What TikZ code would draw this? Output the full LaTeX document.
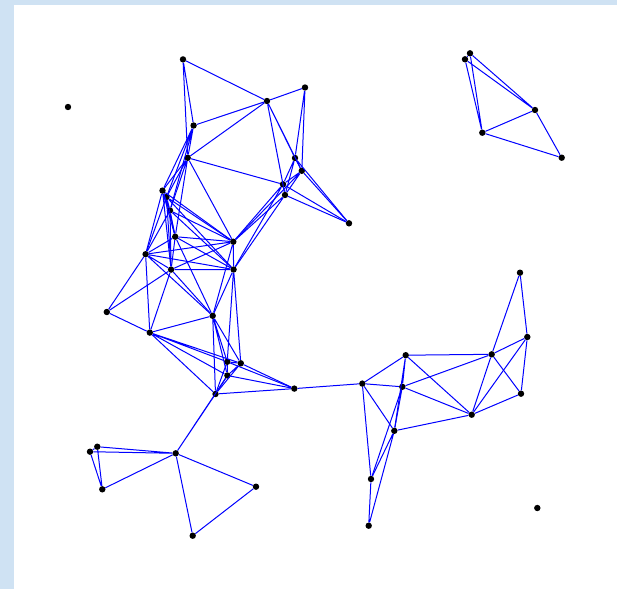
\documentclass[tikz,border=0pt]{standalone}
\usepackage{tikz}

\definecolor{paneblue}{RGB}{207,226,243}
\tikzset{
  vtx/.style={circle, fill=black, inner sep=0pt, minimum size=6.4pt},
  edge/.style={blue, line width=1pt}
}

\begin{document}
\begin{tikzpicture}[x=1pt, y=-1pt]

% ---------- frame ----------
\fill[paneblue] (0,0) rectangle (617,589);
\fill[white] (14,4.5) rectangle (617,589);

% ---------- main cluster ----------
\node[vtx] (m1) at (183,59.4) {};
\node[vtx] (m2) at (267,101) {};
\node[vtx] (m3) at (305,87.5) {};
\node[vtx] (m4) at (193.6,125.5) {};
\node[vtx] (m5) at (187.7,157.8) {};
\node[vtx] (m6) at (295,158) {};
\node[vtx] (m7) at (301.8,170.8) {};
\node[vtx] (m8) at (283,184.3) {};
\node[vtx] (m9) at (285,195) {};
\node[vtx] (m10) at (349,223.3) {};
\node[vtx] (m11) at (162.5,190.6) {};
\node[vtx] (m12) at (166.5,197) {};
\node[vtx] (m13) at (170,210.5) {};
\node[vtx] (m14) at (175.2,236.7) {};
\node[vtx] (m15) at (233.3,241.7) {};
\node[vtx] (m16) at (145.6,254.2) {};
\node[vtx] (m17) at (171.1,269.6) {};
\node[vtx] (m18) at (233.6,269.5) {};
\node[vtx] (m19) at (106.8,312) {};
\node[vtx] (m20) at (212.7,315.8) {};
\node[vtx] (m21) at (149.8,332.6) {};
\node[vtx] (m22) at (227.2,361.8) {};
\node[vtx] (m23) at (240.8,363.3) {};
\node[vtx] (m24) at (227.4,375.5) {};
\node[vtx] (m25) at (215.5,394) {};
\node[vtx] (m26) at (294.3,388.6) {};

\draw[edge] (m1) -- (m2) (m1) -- (m4) (m1) -- (m5);
\draw[edge] (m2) -- (m3) (m2) -- (m4) (m2) -- (m5) (m2) -- (m6) (m2) -- (m7) (m2) -- (m8) (m2) -- (m9);
\draw[edge] (m3) -- (m6) (m3) -- (m7);
\draw[edge] (m4) -- (m5) (m4) -- (m11) (m4) -- (m12) (m4) -- (m13);
\draw[edge] (m5) -- (m8) (m5) -- (m11) (m5) -- (m12) (m5) -- (m13) (m5) -- (m14) (m5) -- (m15);
\draw[edge] (m6) -- (m7) (m6) -- (m8) (m6) -- (m9) (m6) -- (m10);
\draw[edge] (m7) -- (m8) (m7) -- (m9) (m7) -- (m10) (m7) -- (m15);
\draw[edge] (m8) -- (m9) (m8) -- (m10) (m8) -- (m15) (m8) -- (m18);
\draw[edge] (m9) -- (m10) (m9) -- (m15) (m9) -- (m18);
\draw[edge] (m11) -- (m12) (m11) -- (m13) (m11) -- (m14) (m11) -- (m15) (m11) -- (m16) (m11) -- (m17);
\draw[edge] (m12) -- (m13) (m12) -- (m14) (m12) -- (m15) (m12) -- (m16) (m12) -- (m17) (m12) -- (m18);
\draw[edge] (m13) -- (m14) (m13) -- (m15) (m13) -- (m16) (m13) -- (m17) (m13) -- (m18);
\draw[edge] (m14) -- (m15) (m14) -- (m16) (m14) -- (m17) (m14) -- (m18) (m14) -- (m20);
\draw[edge] (m15) -- (m16) (m15) -- (m17) (m15) -- (m18) (m15) -- (m20);
\draw[edge] (m16) -- (m17) (m16) -- (m18) (m16) -- (m19) (m16) -- (m20) (m16) -- (m21);
\draw[edge] (m17) -- (m18) (m17) -- (m19) (m17) -- (m20) (m17) -- (m21);
\draw[edge] (m18) -- (m20) (m18) -- (m22) (m18) -- (m23);
\draw[edge] (m19) -- (m21);
\draw[edge] (m20) -- (m21) (m20) -- (m22) (m20) -- (m23) (m20) -- (m24) (m20) -- (m25);
\draw[edge] (m21) -- (m22) (m21) -- (m23) (m21) -- (m24) (m21) -- (m25);
\draw[edge] (m22) -- (m23) (m22) -- (m24) (m22) -- (m25) (m22) -- (m26);
\draw[edge] (m23) -- (m24) (m23) -- (m25) (m23) -- (m26);
\draw[edge] (m24) -- (m25) (m24) -- (m26);
\draw[edge] (m25) -- (m26);

% ---------- right cluster ----------
\node[vtx] (r1) at (520,272.7) {};
\node[vtx] (r2) at (527.3,337) {};
\node[vtx] (r3) at (491.7,354.3) {};
\node[vtx] (r4) at (405.7,355.2) {};
\node[vtx] (r5) at (362.3,383.6) {};
\node[vtx] (r6) at (402.3,386.8) {};
\node[vtx] (r7) at (521,393.7) {};
\node[vtx] (r8) at (471.7,414.7) {};
\node[vtx] (r9) at (394.3,430.8) {};
\node[vtx] (r10) at (371,479) {};
\node[vtx] (r11) at (368.7,525.7) {};

\draw[edge] (m26) -- (r5);
\draw[edge] (r1) -- (r2) (r1) -- (r3);
\draw[edge] (r2) -- (r3) (r2) -- (r7) (r2) -- (r8);
\draw[edge] (r3) -- (r4) (r3) -- (r6) (r3) -- (r7) (r3) -- (r8);
\draw[edge] (r4) -- (r5) (r4) -- (r6) (r4) -- (r8) (r4) -- (r9);
\draw[edge] (r5) -- (r6) (r5) -- (r9) (r5) -- (r10);
\draw[edge] (r6) -- (r8) (r6) -- (r9) (r6) -- (r10);
\draw[edge] (r7) -- (r8) (r8) -- (r9);
\draw[edge] (r9) -- (r10) (r9) -- (r11) (r10) -- (r11);

% ---------- top right ----------
\node[vtx] (t1) at (470,53.3) {};
\node[vtx] (t2) at (465,59.3) {};
\node[vtx] (t3) at (535,110) {};
\node[vtx] (t4) at (482.3,132.7) {};
\node[vtx] (t5) at (561.7,157.7) {};

\draw[edge] (t1) -- (t2) (t1) -- (t3) (t2) -- (t3) (t1) -- (t4) (t2) -- (t4);
\draw[edge] (t3) -- (t4) (t3) -- (t5) (t4) -- (t5);

% ---------- bottom left ----------
\node[vtx] (b1) at (97.3,446.7) {};
\node[vtx] (b2) at (90,451.7) {};
\node[vtx] (b3) at (175.7,453.3) {};
\node[vtx] (b4) at (102.3,489.3) {};
\node[vtx] (b5) at (256,486.7) {};
\node[vtx] (b6) at (192.7,535.7) {};

\draw[edge] (m24) -- (b3) (m25) -- (b3);
\draw[edge] (b1) -- (b2) (b1) -- (b3) (b2) -- (b3) (b1) -- (b4) (b2) -- (b4) (b3) -- (b4);
\draw[edge] (b3) -- (b5) (b3) -- (b6) (b5) -- (b6);

% ---------- lone points ----------
\node[vtx] (iso1) at (68,107) {};
\node[vtx] (iso2) at (537.3,508) {};

\end{tikzpicture}
\end{document}
